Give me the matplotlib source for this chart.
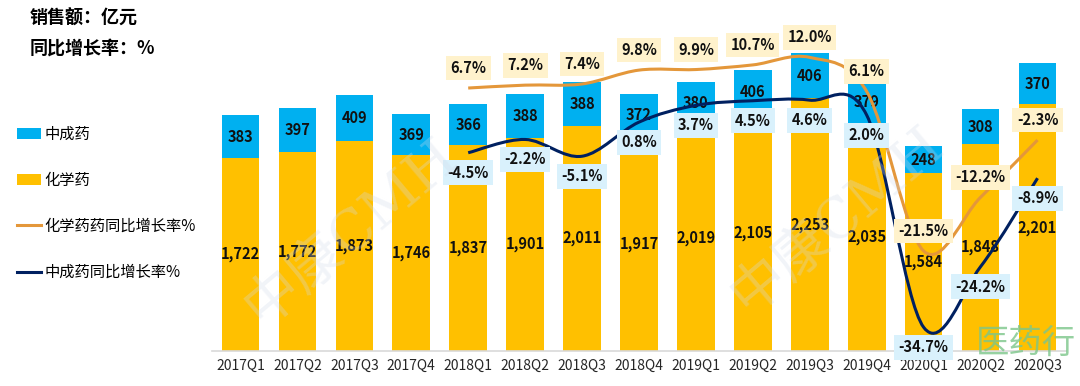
import matplotlib
matplotlib.use('Agg')
import matplotlib.pyplot as plt
from matplotlib.path import Path
from matplotlib.patches import PathPatch, Patch
from matplotlib.lines import Line2D
import numpy as np

plt.rcParams['font.family'] = ['Noto Sans CJK SC', 'DejaVu Sans']

# data (亿元, %)
quarters = ['2017Q1', '2017Q2', '2017Q3', '2017Q4', '2018Q1', '2018Q2', '2018Q3', '2018Q4',
            '2019Q1', '2019Q2', '2019Q3', '2019Q4', '2020Q1', '2020Q2', '2020Q3']
chem = [1722, 1772, 1873, 1746, 1837, 1901, 2011, 1917, 2019, 2105, 2253, 2035, 1584, 1848, 2201]
tcm = [383, 397, 409, 369, 366, 388, 388, 372, 380, 406, 406, 379, 248, 308, 370]
chem_yoy = [6.7, 7.2, 7.4, 9.8, 9.9, 10.7, 12.0, 6.1, -21.5, -12.2, -2.3]
tcm_yoy = [-4.5, -2.2, -5.1, 0.8, 3.7, 4.5, 4.6, 2.0, -34.7, -24.2, -8.9]
yoy_start = 4  # growth series start at 2018Q1

c_tcm = '#00B0F0'
c_chem = '#FFC000'
c_chem_line = '#E4973A'
c_tcm_line = '#002060'


def smooth_path(xs, ys):
    # Catmull-Rom style bezier, like excel "smoothed line"
    pts = np.column_stack([xs, ys]).astype(float)
    n = len(pts)
    verts = [pts[0]]
    codes = [Path.MOVETO]
    for i in range(n - 1):
        p0 = pts[max(i - 1, 0)]
        p1 = pts[i]
        p2 = pts[i + 1]
        p3 = pts[min(i + 2, n - 1)]
        verts += [p1 + (p2 - p0) / 6, p2 - (p3 - p1) / 6, p2]
        codes += [Path.CURVE4] * 3
    return Path(verts, codes)


fig = plt.figure(figsize=(10.8, 3.86), dpi=100)
ax = fig.add_axes([212 / 1080, 35 / 386, 854 / 1080, 341 / 386])
x = np.arange(len(quarters))

b1 = ax.bar(x, chem, width=0.66, color=c_chem, zorder=2)
b2 = ax.bar(x, tcm, width=0.66, bottom=chem, color=c_tcm, zorder=2)
ax.bar_label(b1, labels=[f'{v:,}' for v in chem], label_type='center',
             fontsize=10.5, fontweight='bold', color='#111111')
ax.bar_label(b2, labels=[f'{v:,}' for v in tcm], label_type='center',
             fontsize=10.5, fontweight='bold', color='#111111')

ax.set_xlim(-0.5, len(quarters) - 0.5)
ax.set_ylim(0, 3042)
ax.set_xticks(x)
ax.set_xticklabels(quarters, fontsize=10, color='#262626')
ax.tick_params(axis='x', length=0, pad=6)
ax.set_yticks([])
for s in ['top', 'left', 'right']:
    ax.spines[s].set_visible(False)
ax.spines['bottom'].set_color('#D9D9D9')
ax.spines['bottom'].set_linewidth(1.2)

ax2 = ax.twinx()
ax2.set_ylim(-38.8, 20.2)
ax2.set_yticks([])
for s in ax2.spines.values():
    s.set_visible(False)

xl = x[yoy_start:]
ax2.add_patch(PathPatch(smooth_path(xl, chem_yoy), fc='none', ec=c_chem_line, lw=2.2, zorder=3))
ax2.add_patch(PathPatch(smooth_path(xl, tcm_yoy), fc='none', ec=c_tcm_line, lw=2.2, zorder=3))

for xi, v in zip(xl, chem_yoy):
    ax2.annotate(f'{v:.1f}%', (xi, v), xytext=(0, 20), textcoords='offset pixels',
                 ha='center', va='center', fontsize=10.5, fontweight='bold', color='#111111',
                 bbox=dict(boxstyle='square,pad=0.3', fc='#FFF2CC', ec='none'), zorder=5)
for xi, v in zip(xl, tcm_yoy):
    ax2.annotate(f'{v:.1f}%', (xi, v), xytext=(0, -20), textcoords='offset pixels',
                 ha='center', va='center', fontsize=10.5, fontweight='bold', color='#111111',
                 bbox=dict(boxstyle='square,pad=0.3', fc='#D9F1FC', ec='none'), zorder=5)

# watermarks
for wx, wy in [(0.325, 0.4), (0.775, 0.43)]:
    fig.text(wx, wy, '中康CMH', fontsize=40, color='#D3DBEA', alpha=0.3,
             rotation=40, ha='center', va='center',
             family=['DejaVu Serif', 'Noto Sans CJK SC'])
fig.text(0.95, 0.11, '医药行', fontsize=24, color='#7CC68A', alpha=0.8,
         ha='center', va='center')

# titles
fig.text(30 / 1080, 1 - 18 / 386, '销售额：亿元', fontsize=13, fontweight='bold', va='center')
fig.text(30 / 1080, 1 - 48 / 386, '同比增长率：%', fontsize=13, fontweight='bold', va='center')

handles = [Patch(fc=c_tcm), Patch(fc=c_chem),
           Line2D([], [], color=c_chem_line, lw=2.2), Line2D([], [], color=c_tcm_line, lw=2.2)]
labels = ['中成药', '化学药', '化学药药同比增长率%', '中成药同比增长率%']
fig.legend(handles, labels, loc='upper left', bbox_to_anchor=(0.01, 0.69), frameon=False,
           fontsize=11, labelspacing=1.9, handlelength=1.6, handletextpad=0.2,
           borderaxespad=0)

fig.savefig('out.png', dpi=100)
